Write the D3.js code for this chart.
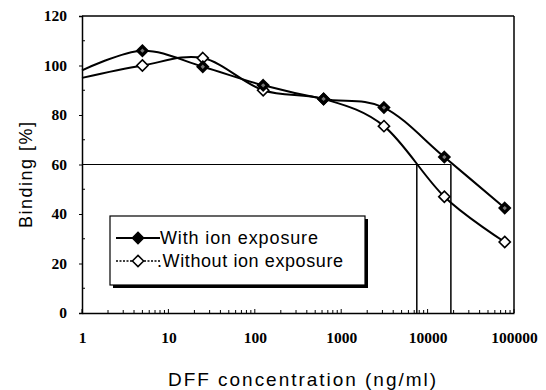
<!DOCTYPE html>
<html><head><meta charset="utf-8">
<script src="https://cdn.jsdelivr.net/npm/d3@7"></script>
<style>
html,body{margin:0;padding:0;background:#fff;}
svg{display:block;}
</style></head>
<body>
<svg id="chart" width="546" height="390"></svg>
<script>
// ---- data ----
const concentrations = [1, 5, 25, 125, 625, 3125, 15625, 78125];
const withIon    = [98, 106, 99.5, 92, 86.5, 83, 63, 42.4];
const withoutIon = [95, 100, 103, 90, 86.5, 75.5, 47, 28.7];
const seriesNames = ["With ion exposure", "Without ion exposure"];
const yTickValues = [0, 20, 40, 60, 80, 100, 120];
const xTickValues = [1, 10, 100, 1000, 10000, 100000];
const xTickLabels = ["1", "10", "100", "1000", "10000", "100000"];
const refLevel = 60;
const refConc = [7500, 18600];

// ---- layout ----
const svg = d3.select("#chart");
const L = 82, R = 514, T = 16, B = 313;
const x = d3.scaleLog().domain([1, 100000]).range([L, R]);
const y = d3.scaleLinear().domain([0, 120]).range([B, T]);
const tickFont = "Liberation Serif, serif";
const textFont = "Liberation Sans, Arial, sans-serif";

// frame (top, right)
svg.append("line").attr("x1", L).attr("x2", R).attr("y1", T).attr("y2", T)
  .attr("stroke", "#000").attr("stroke-width", 1.5);
svg.append("line").attr("x1", R).attr("x2", R).attr("y1", T).attr("y2", B)
  .attr("stroke", "#000").attr("stroke-width", 1.5);

// reference lines
svg.append("line").attr("x1", x(1)).attr("x2", x(refConc[1]))
  .attr("y1", y(refLevel)).attr("y2", y(refLevel))
  .attr("stroke", "#000").attr("stroke-width", 1.2);
refConc.forEach(c => {
  svg.append("line").attr("x1", x(c)).attr("x2", x(c))
    .attr("y1", y(refLevel)).attr("y2", y(0))
    .attr("stroke", "#000").attr("stroke-width", 1.5);
});

// y axis
const yAxis = d3.axisLeft(y).tickValues(yTickValues).tickSize(3).tickPadding(12).tickFormat(d3.format("d"));
const gy = svg.append("g").attr("transform", `translate(${L},0)`).call(yAxis);
gy.select(".domain").attr("stroke-width", 1.5);
gy.selectAll("text").attr("font-family", tickFont).attr("font-size", 15.5)
  .attr("font-weight", "bold").attr("fill", "#000");
// minor y ticks (inside)
const yMinor = d3.range(10, 120, 20);
svg.append("g").selectAll("line").data(yMinor).join("line")
  .attr("x1", L).attr("x2", L + 3).attr("y1", d => y(d)).attr("y2", d => y(d))
  .attr("stroke", "#000").attr("stroke-width", 1);

// x axis
const xAxis = d3.axisBottom(x).tickValues(xTickValues).tickSize(0).tickPadding(19)
  .tickFormat((d, i) => xTickLabels[i]);
const gx = svg.append("g").attr("transform", `translate(0,${B})`).call(xAxis);
gx.select(".domain").attr("stroke-width", 1.5);
gx.selectAll("text").attr("font-family", tickFont).attr("font-size", 15.5)
  .attr("font-weight", "bold").attr("fill", "#000");
// minor x ticks (inside)
const xMinor = [];
for (let dec = 1; dec < 100000; dec *= 10) for (let k = 2; k <= 9; k++) xMinor.push(dec * k);
svg.append("g").selectAll("line").data(xMinor).join("line")
  .attr("x1", d => x(d)).attr("x2", d => x(d)).attr("y1", B).attr("y2", B - 3)
  .attr("stroke", "#000").attr("stroke-width", 1);
svg.append("g").selectAll("line").data(xTickValues).join("line")
  .attr("x1", d => x(d)).attr("x2", d => x(d)).attr("y1", B).attr("y2", B - 4)
  .attr("stroke", "#000").attr("stroke-width", 1);

// axis titles
svg.append("text").attr("x", 168).attr("y", 386)
  .attr("font-family", textFont).attr("font-size", 19)
  .attr("textLength", 268).attr("lengthAdjust", "spacing")
  .text("DFF concentration (ng/ml)");
svg.append("text").attr("transform", "translate(32,228) rotate(-90)")
  .attr("font-family", textFont).attr("font-size", 18)
  .attr("textLength", 106).attr("lengthAdjust", "spacing")
  .text("Binding [%]");

// series
const line = d3.line().x(d => x(d[0])).y(d => y(d[1])).curve(d3.curveCatmullRom.alpha(0));
const diamond = d3.symbol().type(d3.symbolDiamond2).size(80);
const sWith = concentrations.map((c, i) => [c, withIon[i]]);
const sWithout = concentrations.map((c, i) => [c, withoutIon[i]]);

function drawSeries(data, filled) {
  svg.append("path").datum(data).attr("d", line).attr("fill", "none")
    .attr("stroke", "#000").attr("stroke-width", 2);
  svg.append("g").selectAll("path").data(data.slice(1)).join("path")
    .attr("d", diamond).attr("transform", d => `translate(${x(d[0])},${y(d[1])})`)
    .attr("fill", filled ? "#000" : "#fff").attr("stroke", "#000").attr("stroke-width", 1.6);
  if (filled) {
    svg.append("g").selectAll("path").data(data.slice(1)).join("path")
      .attr("d", d3.symbol().type(d3.symbolDiamond2).size(12))
      .attr("transform", d => `translate(${x(d[0])},${y(d[1])})`)
      .attr("fill", "#777");
  }
}
drawSeries(sWithout, false);
drawSeries(sWith, true);

// legend
const lg = svg.append("g");
const lx = 110, ly = 216, lw = 255, lh = 69;
lg.append("rect").attr("x", lx + 3).attr("y", ly + 3).attr("width", lw).attr("height", lh).attr("fill", "#000");
lg.append("rect").attr("x", lx).attr("y", ly).attr("width", lw).attr("height", lh)
  .attr("fill", "#fff").attr("stroke", "#000").attr("stroke-width", 1.2);
const rows = [
  {name: seriesNames[0], filled: true, yy: 238, tx: 160, len: 158},
  {name: "." + seriesNames[1], filled: false, yy: 261, tx: 157, len: 186}
];
rows.forEach(r => {
  lg.append("line").attr("x1", 116).attr("x2", 160).attr("y1", r.yy).attr("y2", r.yy)
    .attr("stroke", "#000").attr("stroke-width", r.filled ? 2 : 1.5)
    .attr("stroke-dasharray", r.filled ? null : "2,1.5");
  lg.append("path").attr("d", diamond).attr("transform", `translate(138,${r.yy})`)
    .attr("fill", r.filled ? "#000" : "#fff").attr("stroke", "#000").attr("stroke-width", 1.5);
  lg.append("text").attr("x", r.tx).attr("y", r.yy).attr("dy", "0.36em")
    .attr("font-family", textFont).attr("font-size", 18)
    .attr("textLength", r.len).attr("lengthAdjust", "spacing")
    .text(r.name);
});
</script>
</body></html>
